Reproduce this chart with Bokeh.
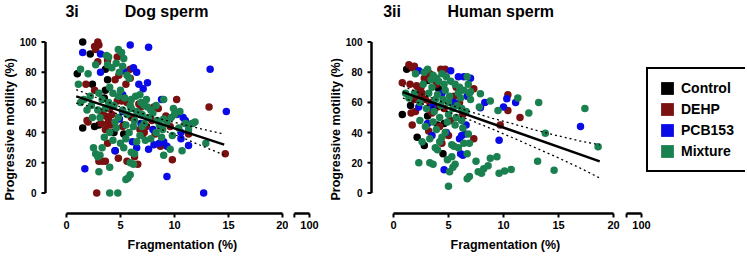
from bokeh.plotting import figure
from bokeh.layouts import row
from bokeh.models import Range1d, FixedTicker, Title, Legend, LegendItem
from bokeh.core.properties import value
from bokeh.embed import file_html
from bokeh.resources import INLINE

FONT = "Liberation Sans"
groups = ["Control", "DEHP", "PCB153", "Mixture"]
colors = ["#000000", "#7a1010", "#0a0ae6", "#1b8050"]

x_ticks = [0, 5, 10, 15, 20]
y_ticks = [0, 20, 40, 60, 80, 100]
break_ticks = [100]

# ---------------- Dog sperm (3i) ----------------
dog_ctrl_x = [1.5, 2.2, 1.0, 2.4, 3.6, 3.8, 3.6, 1.5, 2.6, 3.0, 4.4, 5.3, 5.3, 4.5, 3.5]
dog_ctrl_y = [100, 92, 79, 72, 82, 75, 68, 43, 44, 45, 40, 39, 45, 28, 63]

dog_dehp_x = [2.6, 2.9, 3.0, 2.7, 1.8, 2.9, 3.8, 4.7, 4.85, 4.5, 5.5, 5.9, 5.9, 2.6, 1.9, 3.3, 3.6, 3.9, 3.8, 4.1,
              3.6, 4.2, 4.7, 5.1, 5.6, 5.9, 6.7, 6.9, 6.8, 7.2, 7.0, 3.8, 3.0, 3.3, 3.6, 4.8, 5.6, 6.6, 2.8, 10.2,
              13.2, 14.7, 9.8, 8.1, 8.5, 9.2, 11.0, 11.3, 8.7, 8.9, 8.2, 7.4, 2.0, 3.2, 6.3, 4.0, 7.9, 6.0, 5.2, 9.6]
dog_dehp_y = [97, 100, 98, 95, 72, 87, 88, 90, 78, 75, 72, 82, 76, 68, 48, 53, 51, 49, 46, 45,
              42, 52, 61, 61, 60, 61, 59, 57, 42, 40, 38, 33, 21, 21, 21, 23, 21, 19, 0, 62,
              57, 26, 22, 57, 56, 51, 46, 39, 31, 33, 39, 44, 47, 46, 24, 56, 48, 50, 44, 44]

dog_pcb_x = [1.5, 3.15, 5.9, 7.6, 5.3, 6.5, 6.2, 6.7, 7.1, 7.5, 3.15, 5.2, 6.1, 6.5, 4.5, 1.7, 5.2, 8.8,
             10.2, 10.8, 11.0, 14.8, 13.3, 8.1, 8.6, 9.0, 9.3, 10.6, 11.3, 9.3, 12.7, 7.6, 4.9, 6.9, 8.0, 10.6]
dog_pcb_y = [93, 92, 98, 96.5, 81, 80, 83, 72, 69, 73, 80, 65, 34, 30, 28, 16, 54, 62,
             52, 50, 48, 54, 82, 32, 33, 34, 31, 36, 31.5, 11, 0, 29, 49, 46, 42, 40]

dog_mix_x = [1.1, 1.3, 2.0, 2.7, 3.7, 3.9, 4.8, 5.1, 5.3, 3.8, 4.2, 4.6, 4.9, 5.2, 5.6, 5.8, 2.2, 1.6, 1.3, 2.3,
             2.9, 3.3, 3.0, 4.0, 4.3, 4.8, 5.0, 5.4, 6.0, 6.4, 6.9, 7.4, 7.8, 8.3, 9.0, 9.9, 10.0, 10.5, 11.9, 11.0,
             11.6, 9.0, 8.4, 7.6, 7.0, 6.5, 6.0, 5.6, 5.2, 4.8, 4.5, 4.0, 4.3, 3.5, 3.3, 2.5, 2.7, 3.1, 2.9, 3.0,
             4.0, 4.0, 4.75, 5.5, 5.7, 5.9, 5.9, 6.2, 6.0, 6.3, 5.0, 5.3, 5.5, 6.5, 6.8, 7.3, 7.8, 8.3, 8.9, 9.0,
             9.6, 10.7, 12.9, 11.3, 11.7, 10.4, 9.8, 7.2, 6.2, 5.8, 2.4, 1.9, 3.6, 4.4, 5.5, 6.3, 7.0, 7.5, 8.0,
             8.6, 9.3, 9.7, 6.8, 7.2, 5.9, 4.6, 3.9, 3.1, 8.8]
dog_mix_y = [72, 82, 79, 85, 91, 90, 95, 93, 89, 85, 83, 86, 80, 84, 78, 76, 64, 62, 60, 58,
             55, 62, 66, 70, 66, 64, 68, 63, 62, 64, 60, 62, 55, 58, 62, 56, 52, 54, 47, 46,
             46, 49, 48, 50, 52, 54, 56, 52, 55, 50, 47, 40, 35, 37, 30, 30, 26, 25, 24, 14,
             17, 0, 0, 9, 10, 12, 20, 19, 27, 26, 33, 30, 36, 34, 38, 35, 36, 40, 42, 25,
             29, 28, 33, 42, 46, 43, 38, 46, 44, 40, 50, 55, 56, 58, 45, 48, 44, 57, 53,
             45, 47, 50, 65, 58, 58, 43, 60, 50, 37]

dog_fit_x = [0.9, 14.6]
dog_fit_y = [64, 32]
dog_ci_x = [0.9, 3, 5, 7, 9, 11, 13, 14.6]
dog_ci_hi = [68.5, 62.5, 57, 52.7, 48.5, 45, 41.6, 39]
dog_ci_lo = [59.5, 56, 51.9, 46.7, 41.5, 35.8, 29.8, 25.2]

# ---------------- Human sperm (3ii) ----------------
hum_ctrl_x = [1.2, 3.1, 4.1, 1.55, 0.8, 3.1, 2.15, 2.8, 4.6, 4.5, 4.0, 2.5]
hum_ctrl_y = [82, 74.5, 69, 58, 52, 51, 37, 31.5, 46, 26, 45, 63]

hum_dehp_x = [1.4, 1.7, 1.9, 4.3, 4.7, 0.8, 1.5, 2.1, 2.3, 2.5, 2.6, 2.2, 2.9, 3.3, 3.6, 4.0, 1.6, 2.0, 1.7, 3.2,
              4.4, 5.0, 7.3, 10.4, 10.4, 11.5, 9.7, 7.3, 3.5, 4.6, 5.5, 6.0, 2.8, 3.3, 3.9, 5.7, 5.2, 6.3, 4.2, 1.9]
hum_dehp_y = [85, 83, 84, 82, 82, 73, 72, 71, 68, 70, 66, 64, 62, 60, 59, 57, 53, 54, 45, 41,
              33, 38, 69, 65, 54.6, 50, 45, 36, 53, 56, 64, 60, 76, 79, 72, 70, 48, 52, 44, 62]

hum_pcb_x = [2.3, 5.2, 5.9, 6.4, 2.3, 3.5, 4.6, 6.1, 6.3, 7.0, 8.3, 7.9, 10.3, 11.1, 10.0, 17.0, 9.6, 6.6,
             4.4, 5.5, 6.7, 3.1, 4.8, 6.0, 3.5, 6.2, 6.5]
hum_pcb_y = [81, 81, 77, 77, 57, 57, 15.4, 26, 25, 76, 60, 56.5, 62.4, 60, 57, 44, 35, 45,
             66, 60, 64, 46, 40, 36, 38, 38, 39]

hum_mix_x = [1.1, 1.4, 2.0, 2.8, 3.1, 3.6, 3.9, 4.4, 4.8, 5.2, 5.6, 6.0, 6.4, 6.8, 7.0, 6.7, 3.5, 4.0, 4.5, 5.0,
             5.4, 5.8, 6.2, 6.6, 7.0, 6.9, 7.9, 8.8, 7.8, 9.5, 11.3, 12.3, 13.2, 17.4, 18.6, 13.8, 3.0, 3.7, 4.2, 4.9,
             5.6, 6.3, 6.8, 6.9, 6.7, 7.5, 8.8, 9.4, 8.6, 8.2, 7.7, 8.0, 6.9, 9.6, 10.1, 10.7, 13.1, 14.6, 6.7, 5.0,
             5.1, 5.4, 5.6, 4.9, 5.3, 2.3, 3.3, 3.6, 2.6, 3.3, 3.8, 4.2, 4.7, 5.3, 5.9, 6.4, 2.9, 3.6, 2.4, 1.9,
             2.4, 4.6, 4.0, 5.5, 3.2, 3.8, 4.3, 4.7, 5.1, 5.9, 6.1, 2.7, 3.4, 4.1, 5.0, 5.7, 6.2, 3.9, 4.4]
hum_mix_y = [66, 63, 79, 80, 82, 78, 76, 79, 77, 74, 72, 70, 68, 72, 67, 77, 70, 65, 62, 60,
             56, 58, 56, 54, 62, 66, 65.7, 61, 57, 54.6, 63, 53, 60, 56, 30.6, 39.6, 56, 54, 50, 47,
             45, 43, 39, 33, 26, 21, 23, 24, 18, 16, 14, 13, 11, 13, 14.5, 15.6, 21, 15, 9.4, 4.5,
             14, 17, 19, 22, 24, 20, 20, 19, 34, 36, 30, 34, 40, 32, 30, 33, 44, 47, 48, 66,
             60, 72, 28.6, 31, 66, 62, 58, 68, 64, 66, 63, 72, 75, 74, 52, 50, 48, 42, 37]

hum_fit_x = [0.85, 18.75]
hum_fit_y = [66.8, 20.9]
hum_ci_x = [0.85, 3, 5, 7, 9, 11, 13, 15, 17, 18.75]
hum_ci_hi = [70.8, 64.3, 58.7, 53.8, 49.5, 45.5, 41.5, 37.8, 34.4, 31.9]
hum_ci_lo = [62.8, 58.3, 53.7, 48.2, 42.3, 36.1, 29.7, 23.2, 16.4, 9.9]

# ---------------- geometry (pixels -> data) ----------------
FH = 218                 # frame height (px)
PX_Y = 1.5097            # px per y unit
Y1 = 127.5
Y0 = Y1 - FH / PX_Y      # frame bottom
Y_AXIS = -13.6           # where the x axis line sits
TICK = 4                 # tick length (px)
PAD = 5                  # frame extends this far beyond the axis lines
LABEL_FONT = dict(text_font=FONT, text_font_style="bold", text_font_size="12.5px", text_color="black")


def base_fig(fw, xr, left=0, right=0, **kw):
    p = figure(frame_width=fw, frame_height=FH, x_range=Range1d(*xr), y_range=Range1d(Y0, Y1),
               output_backend="svg", toolbar_location=None, min_border_left=left, min_border_right=right,
               min_border_top=0, min_border_bottom=0, outline_line_color=None, **kw)
    p.grid.visible = False
    return p


def label_axis(axes, ticks, size, standoff, overrides=None):
    axes.update(ticker=FixedTicker(ticks=ticks), level="overlay",
                axis_line_color=None, major_tick_line_color=None, minor_tick_line_color=None,
                major_tick_out=0, major_tick_in=0,
                major_label_text_font=FONT, major_label_text_font_style="bold",
                major_label_text_font_size=size, major_label_text_color="black",
                major_label_standoff=standoff, major_label_overrides=overrides or {})


def draw_x_rule(p, lo, hi, ticks):
    # axis line and outward ticks of the x axis, drawn from the tick positions
    dy = TICK / PX_Y
    p.segment(x0=[lo], x1=[hi], y0=[Y_AXIS], y1=[Y_AXIS], line_color="black", line_width=2.5)
    p.segment(x0=ticks, x1=ticks, y0=[Y_AXIS] * len(ticks), y1=[Y_AXIS - dy] * len(ticks),
              line_color="black", line_width=2)


def main_panel(fw, xr, px_x, series, fit_x, fit_y, ci_x, ci_hi, ci_lo, tid, tname, tid_x, tname_x,
               xoff, yoff):
    x_axis_pos = xr[0] + PAD / px_x
    p = base_fig(fw, xr, left=40)
    label_axis(p.xaxis, x_ticks, "11px", 2)
    label_axis(p.yaxis, y_ticks, "10px", 4)
    for (xs, ys), c in zip(series, colors):
        p.scatter(xs, ys, size=7.5, fill_color=c, line_color=None)
    p.line(fit_x, fit_y, line_color="black", line_width=2.5)
    p.line(ci_x, ci_hi, line_color="black", line_width=1.3, line_dash="2 3")
    p.line(ci_x, ci_lo, line_color="black", line_width=1.3, line_dash="2 3")
    # x axis rule + ticks
    draw_x_rule(p, x_ticks[0], x_ticks[-1], x_ticks)
    # y axis rule + ticks
    dx = TICK / px_x
    p.segment(x0=[x_axis_pos], x1=[x_axis_pos], y0=[y_ticks[0]], y1=[y_ticks[-1]],
              line_color="black", line_width=2.5)
    p.segment(x0=[x_axis_pos] * len(y_ticks), x1=[x_axis_pos - dx] * len(y_ticks), y0=y_ticks, y1=y_ticks,
              line_color="black", line_width=2)
    p.text(x=[tid_x, tname_x], y=[120.2, 120.2], text=[tid, tname], text_font=value(FONT),
           text_font_style="bold", text_font_size="16px", text_baseline="middle", text_color="black")
    p.add_layout(Title(text="Fragmentation (%)", align="left", offset=xoff, standoff=8, **LABEL_FONT),
                 "below")
    p.add_layout(Title(text="Progressive motility (%)", align="left", offset=yoff, standoff=0,
                       **LABEL_FONT), "left")
    return p


def break_panel(fw, xr, lo, right=0):
    p = base_fig(fw, xr, right=right, y_axis_location=None)
    label_axis(p.xaxis, break_ticks, "11px", 2)
    draw_x_rule(p, lo, break_ticks[0], [lo] + break_ticks)
    return p


# panel 1: 10.8 px per x unit, y axis line at x=-1.944
f1 = main_panel(248, (-1.944 - PAD / 10.8, 20.556), 10.8,
                [(dog_ctrl_x, dog_ctrl_y), (dog_dehp_x, dog_dehp_y), (dog_pcb_x, dog_pcb_y), (dog_mix_x, dog_mix_y)],
                dog_fit_x, dog_fit_y, dog_ci_x, dog_ci_hi, dog_ci_lo,
                "3i", "Dog sperm", -0.1, 5.4, 87, 18)
b1 = break_panel(30, (98.056, 100.833), 98.6, right=8)

# panel 2: 11 px per x unit, y axis line at x=-2
f2 = main_panel(254, (-2.0 - PAD / 11.0, 20.636), 11.0,
                [(hum_ctrl_x, hum_ctrl_y), (hum_dehp_x, hum_dehp_y), (hum_pcb_x, hum_pcb_y), (hum_mix_x, hum_mix_y)],
                hum_fit_x, hum_fit_y, hum_ci_x, hum_ci_hi, hum_ci_lo,
                "3ii", "Human sperm", -0.94, 4.9, 84, 18)
b2 = break_panel(125, (98.09, 109.45), 98.64)

nan = float("nan")
items = []
for g, c in zip(groups, colors):
    r = b2.quad(left=[nan], right=[nan], top=[nan], bottom=[nan], fill_color=c, line_color=None)
    items.append(LegendItem(label=g, renderers=[r]))
leg = Legend(items=items, location=(26, 46))
leg.border_line_color = "black"
leg.border_line_width = 2.5
leg.border_line_alpha = 1.0
leg.padding = 11
leg.spacing = 5
leg.glyph_width = 16
leg.glyph_height = 16
leg.label_standoff = 6
leg.label_text_font = FONT
leg.label_text_font_style = "bold"
leg.label_text_font_size = "14px"
leg.label_text_color = "black"
leg.background_fill_color = "white"
leg.background_fill_alpha = 1.0
b2.add_layout(leg)

layout = row(f1, b1, f2, b2)
open("out.html", "w").write(file_html(layout, INLINE))
